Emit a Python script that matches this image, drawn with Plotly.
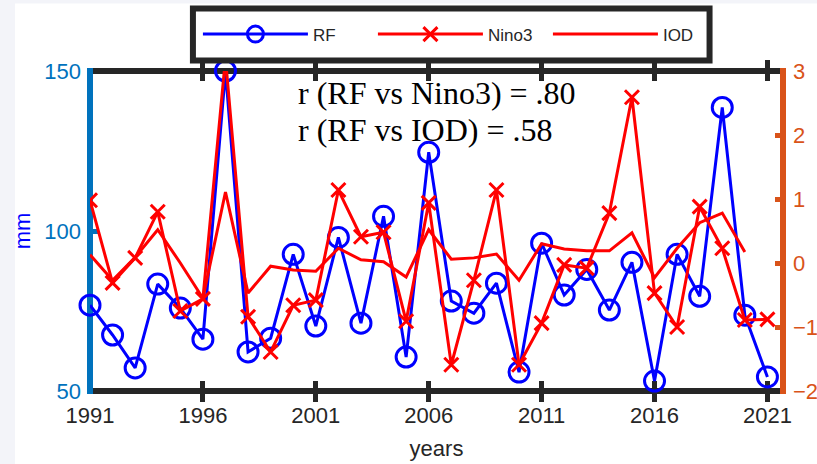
import plotly.graph_objects as go

years = list(range(1991, 2022))
rf = [76.8, 67.5, 57.2, 83.4, 75.9, 66.2, 150.0, 62.2, 66.5, 92.7,
      70.3, 98.0, 71.2, 104.6, 60.6, 124.6, 78.1, 74.3, 83.7, 55.9,
      96.2, 80.0, 88.0, 75.3, 90.2, 53.1, 92.7, 79.6, 138.6, 73.7, 54.4]
nino3 = [0.98, -0.31, 0.08, 0.80, -0.75, -0.56, 3.2, -0.84, -1.39, -0.66,
         -0.58, 1.14, 0.41, 0.48, -0.91, 0.94, -1.59, -0.27, 1.14, -1.59,
         -0.94, -0.03, -0.08, 0.78, 2.59, -0.47, -1.0, 0.88, 0.23, -0.89, -0.88]
iod_years = list(range(1991, 2021))
iod = [0.13, -0.27, 0.09, 0.52, 0.0, -0.55, 1.11, -0.47, -0.05, -0.11,
       -0.13, 0.23, 0.05, 0.02, -0.22, 0.52, 0.06, 0.08, 0.14, -0.27,
       0.30, 0.22, 0.19, 0.19, 0.47, -0.23, 0.23, 0.63, 0.78, 0.17]
x_ticks = [1991, 1996, 2001, 2006, 2011, 2016, 2021]
left_ticks = [50, 100, 150]
right_ticks = [-2, -1, 0, 1, 2, 3]
annot_lines = ["r (RF vs Nino3) = .80", "r (RF vs IOD) = .58"]

W, H = 817, 464
L, R, T, B = 90, 783.5, 70.5, 391
pw, ph = R - L, B - T

def px(x):
    return (x - L) / pw

def py(y):
    return (B - y) / ph

BLUE = "#0000FF"
RED = "#FF0000"
AXBLUE = "#0072BD"
AXORANGE = "#D95319"
DARK = "#262626"
LW = 6

fig = go.Figure()
fig.add_trace(go.Scatter(
    x=years, y=rf, name="RF", mode="lines+markers",
    line=dict(color=BLUE, width=3),
    marker=dict(symbol="circle-open", size=20, color=BLUE, line=dict(color=BLUE, width=3)),
    cliponaxis=False, yaxis="y"))
fig.add_trace(go.Scatter(
    x=years, y=nino3, name="Nino3", mode="lines+markers",
    line=dict(color=RED, width=3),
    marker=dict(symbol="x-thin", size=14, color=RED, line=dict(color=RED, width=3)),
    cliponaxis=True, yaxis="y2"))
fig.add_trace(go.Scatter(
    x=iod_years, y=iod, name="IOD", mode="lines",
    line=dict(color=RED, width=3),
    cliponaxis=False, yaxis="y2"))

ey = (LW / 2) / ph
shapes = [
    dict(type="rect", xref="paper", yref="paper", x0=px(15), x1=px(W + 5),
         y0=py(H + 5), y1=py(3), fillcolor="white", line=dict(width=0), layer="below"),
    dict(type="line", xref="paper", yref="paper", x0=0, x1=1, y0=0, y1=0,
         line=dict(color=DARK, width=LW), layer="below"),
    dict(type="line", xref="paper", yref="paper", x0=0, x1=1, y0=1, y1=1,
         line=dict(color=DARK, width=LW), layer="below"),
    dict(type="line", xref="paper", yref="paper", x0=0, x1=0, y0=-ey, y1=1 + ey,
         line=dict(color=AXBLUE, width=LW), layer="below"),
    dict(type="line", xref="paper", yref="paper", x0=1, x1=1, y0=-ey, y1=1 + ey,
         line=dict(color=AXORANGE, width=LW), layer="below"),
    dict(type="rect", xref="paper", yref="paper", x0=px(193), x1=px(710),
         y0=py(60), y1=py(8), fillcolor="white", line=dict(color=DARK, width=6), layer="above"),
]

annotations = [
    dict(text=annot_lines[0], xref="paper", yref="paper", x=px(296), y=py(93),
         xanchor="left", yanchor="middle", showarrow=False,
         font=dict(family="Liberation Serif", size=32, color="black")),
    dict(text=annot_lines[1], xref="paper", yref="paper", x=px(296), y=py(130),
         xanchor="left", yanchor="middle", showarrow=False,
         font=dict(family="Liberation Serif", size=32, color="black")),
]

fig.update_layout(
    width=W, height=H,
    margin=dict(l=L, r=W - R, t=T, b=H - B, pad=0, autoexpand=False),
    paper_bgcolor="#f3f4f9", plot_bgcolor="white",
    font=dict(family="Liberation Sans", size=22, color=DARK),
    showlegend=True,
    legend=dict(orientation="h", x=px(198), y=py(34), xanchor="left", yanchor="middle",
                bgcolor="rgba(0,0,0,0)", borderwidth=0, itemwidth=105,
                entrywidth=55, entrywidthmode="pixels",
                font=dict(family="Liberation Sans", size=17, color=DARK),
                itemclick=False),
    xaxis=dict(range=[1991, 2021.69], tickvals=x_ticks, ticks="inside", ticklen=10,
               tickwidth=5, tickcolor=DARK, showline=False, mirror="allticks",
               showgrid=False, zeroline=False, ticklabelstandoff=9, automargin=False,
               tickfont=dict(size=22, color=DARK), layer="below traces",
               title=dict(text="years", font=dict(size=22, color=DARK), standoff=13)),
    yaxis=dict(range=[50, 150], tickvals=left_ticks, ticks="inside", ticklen=9,
               tickwidth=5, tickcolor=AXBLUE, showline=False, automargin=False,
               showgrid=False, zeroline=False, layer="below traces", ticklabelstandoff=8,
               tickfont=dict(size=22, color=AXBLUE),
               title=dict(text="mm", font=dict(size=22, color=BLUE), standoff=7)),
    yaxis2=dict(range=[-2, 3], tickvals=right_ticks, overlaying="y", side="right",
                ticks="inside", ticklen=8, tickwidth=5, tickcolor=AXORANGE,
                showline=False, showgrid=False, ticklabelstandoff=9, automargin=False,
                zeroline=False, layer="below traces",
                tickfont=dict(size=22, color=AXORANGE)),
    shapes=shapes, annotations=annotations,
)

fig.write_html("out.html")
